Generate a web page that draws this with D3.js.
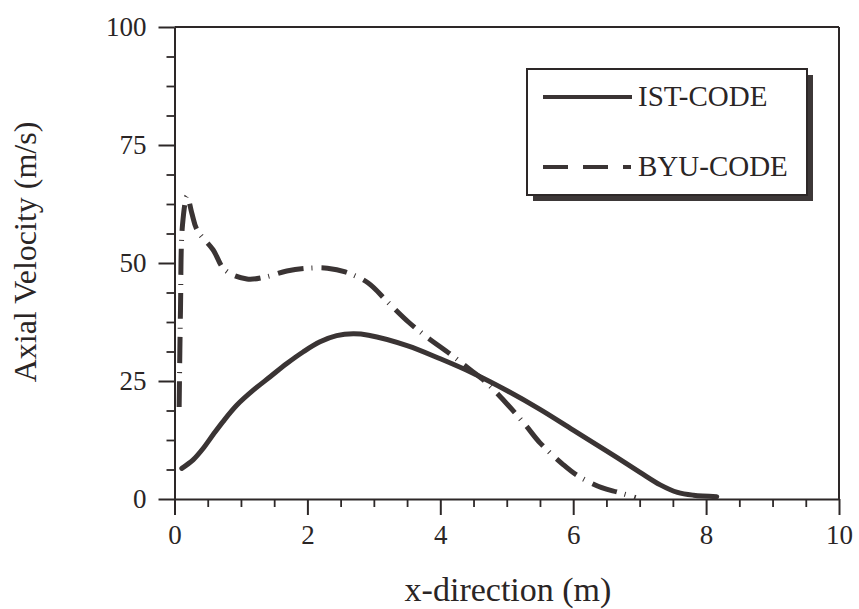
<!DOCTYPE html>
<html>
<head>
<meta charset="utf-8">
<script src="https://cdn.jsdelivr.net/npm/d3@7"></script>
<style>
  html, body { margin: 0; padding: 0; background: #fff; }
  svg { display: block; }
  text { font-family: "Liberation Serif", "Times New Roman", serif; fill: #2a2525; }
</style>
</head>
<body>
<svg id="chart" width="859" height="609"></svg>
<script>
// ---- data ----
const istX = [0.11, 0.28, 0.43, 0.58, 0.73, 0.94, 1.19, 1.44, 1.69, 1.94, 2.19, 2.44, 2.69, 2.92, 3.5, 4.0, 4.5, 5.0, 5.5, 6.0, 6.5, 7.0, 7.31, 7.57, 7.81, 8.16];
const istY = [6.5, 8.3, 10.7, 13.6, 16.4, 19.9, 23.1, 25.9, 28.7, 31.2, 33.3, 34.6, 35.0, 34.7, 32.5, 29.7, 26.6, 23.0, 19.0, 14.6, 10.2, 5.7, 3.0, 1.4, 0.8, 0.5];
const byuX = [0.07, 0.09, 0.12, 0.19, 0.26, 0.34, 0.58, 0.76, 1.09, 1.36, 1.69, 2.0, 2.3, 2.57, 2.91, 3.21, 3.52, 3.8, 4.15, 4.45, 4.7, 4.98, 5.28, 5.5, 5.84, 6.06, 6.43, 6.68, 6.94];
const byuY = [19.5, 40, 58, 64.2, 60.6, 57, 52.8, 48.5, 46.6, 47, 48.3, 48.9, 48.9, 48.1, 45.8, 41.7, 37.5, 34.3, 30.7, 27.4, 24.6, 20.5, 15.7, 11.9, 7.4, 5.0, 2.4, 1.4, 0.3];
const xTicks = [0, 2, 4, 6, 8, 10];
const yTicks = [0, 25, 50, 75, 100];
const seriesNames = ["IST-CODE", "BYU-CODE"];
const xTitle = "x-direction (m)";
const yTitle = "Axial Velocity (m/s)";

// ---- layout ----
const ink = "#2d2828";
const svg = d3.select("#chart");
const x = d3.scaleLinear().domain([0, 10]).range([174.5, 839]);
const y = d3.scaleLinear().domain([0, 100]).range([499, 27]);

// minor ticks
const xMinor = d3.range(0, 10.001, 0.5).filter(v => !xTicks.includes(v));
const yMinor = d3.range(0, 100.001, 6.25).filter(v => !yTicks.includes(v));

const gx = svg.append("g").attr("transform", `translate(0,${y(0)})`);
gx.call(d3.axisBottom(x).tickValues(xMinor).tickSize(8).tickFormat(""));
gx.selectAll(".tick line").attr("stroke", ink).attr("stroke-width", 1.8);
gx.select(".domain").remove();
const gx2 = svg.append("g").attr("transform", `translate(0,${y(0)})`);
gx2.call(d3.axisBottom(x).tickValues(xTicks).tickSize(16).tickSizeOuter(0).tickPadding(10).tickFormat(d3.format("d")));
gx2.selectAll(".tick line").attr("stroke", ink).attr("stroke-width", 2);
gx2.select(".domain").attr("stroke", ink).attr("stroke-width", 2);
gx2.selectAll("text").attr("font-size", 27).attr("font-family", "Liberation Serif").attr("fill", "#2a2525");

const gy = svg.append("g").attr("transform", `translate(${x(0)},0)`);
gy.call(d3.axisLeft(y).tickValues(yMinor).tickSize(8).tickFormat(""));
gy.selectAll(".tick line").attr("stroke", ink).attr("stroke-width", 1.8);
gy.select(".domain").remove();
const gy2 = svg.append("g").attr("transform", `translate(${x(0)},0)`);
gy2.call(d3.axisLeft(y).tickValues(yTicks).tickSize(16).tickSizeOuter(0).tickPadding(12).tickFormat(d3.format("d")));
gy2.selectAll(".tick line").attr("stroke", ink).attr("stroke-width", 2);
gy2.select(".domain").attr("stroke", ink).attr("stroke-width", 2);
gy2.selectAll("text").attr("font-size", 27).attr("font-family", "Liberation Serif").attr("fill", "#2a2525");

// frame top/right
svg.append("line").attr("x1", x(0)).attr("x2", x(10)).attr("y1", y(100)).attr("y2", y(100))
  .attr("stroke", ink).attr("stroke-width", 2);
svg.append("line").attr("x1", x(10)).attr("x2", x(10)).attr("y1", y(100)).attr("y2", y(0))
  .attr("stroke", ink).attr("stroke-width", 2);

// axis titles
svg.append("text").attr("x", 508).attr("y", 601).attr("text-anchor", "middle")
  .attr("font-size", 34).text(xTitle);
svg.append("text").attr("transform", "translate(36,252) rotate(-90)").attr("text-anchor", "middle")
  .attr("font-size", 32).text(yTitle);

// lines
const line = d3.line().x(d => x(d[0])).y(d => y(d[1])).curve(d3.curveCatmullRom.alpha(0.5));
const ist = istX.map((v, i) => [v, istY[i]]);
const byu = byuX.map((v, i) => [v, byuY[i]]);
svg.append("path").datum(ist).attr("d", line).attr("fill", "none")
  .attr("stroke", "#3a3434").attr("stroke-width", 5).attr("stroke-linecap", "round");
svg.append("path").datum(byu).attr("d", line).attr("fill", "none")
  .attr("stroke", "#3a3434").attr("stroke-width", 5).attr("stroke-dasharray", "26,8,1,9");

// legend
const lg = svg.append("g");
lg.append("rect").attr("x", 533).attr("y", 75).attr("width", 280).attr("height", 126).attr("fill", "#3d3838");
lg.append("rect").attr("x", 527).attr("y", 69).attr("width", 280).attr("height", 126)
  .attr("fill", "#fff").attr("stroke", ink).attr("stroke-width", 2);
lg.append("line").attr("x1", 543).attr("x2", 632).attr("y1", 97).attr("y2", 97)
  .attr("stroke", "#3a3434").attr("stroke-width", 4);
lg.append("line").attr("x1", 543).attr("x2", 631).attr("y1", 167).attr("y2", 167)
  .attr("stroke", "#3a3434").attr("stroke-width", 4).attr("stroke-dasharray", "25,15");
lg.append("text").attr("x", 638).attr("y", 106).attr("font-size", 29).text(seriesNames[0]);
lg.append("text").attr("x", 638).attr("y", 176).attr("font-size", 29).text(seriesNames[1]);
</script>
</body>
</html>
